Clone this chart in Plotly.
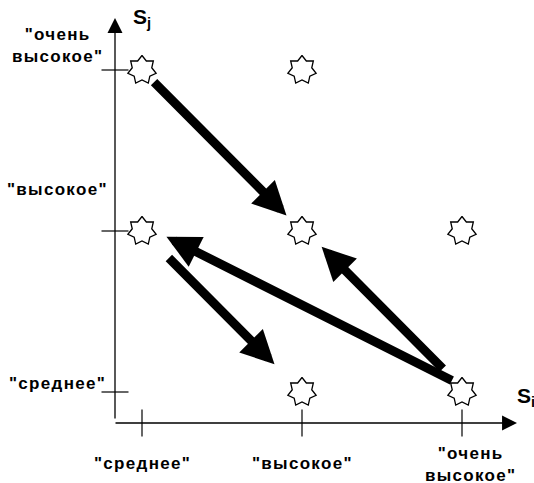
import numpy as np
import plotly.graph_objects as go

# ---- data ----
level_vals = [0, 1, 2]
x_labels = ['"среднее"', '"высокое"', '"очень<br>высокое"']
y_labels = ['"среднее"', '"высокое"', '"очень<br>высокое"']
axis_x_name = "S<sub>i</sub>"
axis_y_name = "S<sub>j</sub>"

# star positions (level index on Si, level index on Sj)
star_i = [0, 1, 0, 1, 2, 1, 2]
star_j = [2, 2, 1, 1, 1, 0, 0]

# transitions: from (i, j) -> to (i, j)
arrow_from_i = [0, 2, 2, 0]
arrow_from_j = [2, 0, 0, 1]
arrow_to_i = [1, 1, 0, 1]
arrow_to_j = [1, 1, 1, 0]

# ---- layout geometry (pixels) ----
W, H = 534, 483
px_per_x = 160.0
px_per_y = 161.0
x0_px, y0_px = 142.0, 392.0          # pixel position of level 0 / level 0
xr = [(0 - x0_px) / px_per_x, (W - x0_px) / px_per_x]
yr = [(y0_px - H) / px_per_y, y0_px / px_per_y]

axis_x_at = (115 - x0_px) / px_per_x    # x of vertical axis
axis_y_at = (y0_px - 423) / px_per_y    # y of horizontal axis
x_axis_end = (517 - x0_px) / px_per_x
x_axis_start = (114 - x0_px) / px_per_x
y_axis_end = (y0_px - 18) / px_per_y
y_axis_start = (y0_px - 420) / px_per_y

start_standoff = [15, 28, 13, 36]
end_standoff = [22, 25, 24, 39]
arrow_xshift = [0, 2, 3, 0]
arrow_yshift = [0, 2, 5, 0]

font_family = "Arial, Liberation Sans, sans-serif"
lab_size = 17

fig = go.Figure()

# stars (7-pointed outline, white fill)
R_out, R_in = 14.5, 10.0
n = 7
ang = np.pi / 2 + np.arange(2 * n) * np.pi / n
rad = np.where(np.arange(2 * n) % 2 == 0, R_out, R_in)
for si, sj in zip(star_i, star_j):
    xs = si + rad * np.cos(ang) / px_per_x
    ys = sj + rad * np.sin(ang) / px_per_y
    xs = np.append(xs, xs[0])
    ys = np.append(ys, ys[0])
    fig.add_trace(go.Scatter(x=xs, y=ys, mode="lines", fill="toself",
                             fillcolor="white",
                             line=dict(color="black", width=1.3),
                             hoverinfo="skip", showlegend=False))

shapes = []
# ticks crossing the axes
for v in level_vals:
    shapes.append(dict(type="line", xref="x", yref="y", xsizemode="pixel",
                       xanchor=axis_x_at, x0=-13.5, x1=13.5, y0=v, y1=v,
                       line=dict(color="black", width=1.2), layer="below"))
    shapes.append(dict(type="line", xref="x", yref="y", ysizemode="pixel",
                       yanchor=axis_y_at, y0=-13.5, y1=13.5, x0=v, x1=v,
                       line=dict(color="black", width=1.2), layer="below"))

annotations = []
# axes with arrows
annotations.append(dict(x=x_axis_end, y=axis_y_at, ax=x_axis_start, ay=axis_y_at,
                        xref="x", yref="y", axref="x", ayref="y", text="",
                        showarrow=True, arrowhead=2, arrowwidth=1.3,
                        arrowsize=2.3, arrowcolor="black"))
annotations.append(dict(x=axis_x_at, y=y_axis_end, ax=axis_x_at, ay=y_axis_start,
                        xref="x", yref="y", axref="x", ayref="y", text="",
                        showarrow=True, arrowhead=2, arrowwidth=1.3,
                        arrowsize=2.3, arrowcolor="black"))

# transition arrows
for k in range(len(arrow_from_i)):
    annotations.append(dict(x=arrow_to_i[k], y=arrow_to_j[k],
                            ax=arrow_from_i[k], ay=arrow_from_j[k],
                            xref="x", yref="y", axref="x", ayref="y", text="",
                            showarrow=True, arrowhead=2, arrowwidth=9,
                            arrowsize=0.74, arrowcolor="black",
                            standoff=end_standoff[k],
                            startstandoff=start_standoff[k],
                            xshift=arrow_xshift[k], yshift=arrow_yshift[k]))


def bold_spaced(t):
    parts = t.split("<br>")
    return "<br>".join('<b><span style="letter-spacing:1.3px">' + p + "</span></b>"
                       for p in parts)


lab_font = dict(family=font_family, size=lab_size, color="black")
# y labels
y_shift = [9, 42, 25]
for v, t, s in zip(level_vals, y_labels, y_shift):
    annotations.append(dict(x=axis_x_at, y=v, xref="x", yref="y", text=bold_spaced(t),
                            showarrow=False, xanchor="center", yanchor="middle",
                            xshift=57 - 115, yshift=s, font=lab_font, align="center"))
# x labels
x_xshift = [0, 0, 8]
x_yshift = [-40, -40, -41]
for v, t, sx, sy in zip(level_vals, x_labels, x_xshift, x_yshift):
    annotations.append(dict(x=v, y=axis_y_at, xref="x", yref="y", text=bold_spaced(t),
                            showarrow=False, xanchor="center", yanchor="middle",
                            xshift=sx, yshift=sy, font=lab_font, align="center"))

# axis names
annotations.append(dict(x=axis_x_at, y=y_axis_end, xref="x", yref="y",
                        text="<b>" + axis_y_name + "</b>", showarrow=False,
                        xanchor="left", yanchor="middle", xshift=16, yshift=0,
                        font=dict(family=font_family, size=21, color="black")))
annotations.append(dict(x=x_axis_end, y=axis_y_at, xref="x", yref="y",
                        text="<b>" + axis_x_name + "</b>", showarrow=False,
                        xanchor="left", yanchor="middle", xshift=-2, yshift=26,
                        font=dict(family=font_family, size=21, color="black")))

fig.update_layout(
    width=W, height=H,
    margin=dict(l=0, r=0, t=0, b=0),
    paper_bgcolor="white", plot_bgcolor="white",
    xaxis=dict(range=xr, visible=False, fixedrange=True),
    yaxis=dict(range=yr, visible=False, fixedrange=True),
    shapes=shapes, annotations=annotations, showlegend=False,
)

fig.write_html("out.html", config={"displayModeBar": False},
               post_script="document.body.style.margin='0';document.body.style.overflow='hidden';")
